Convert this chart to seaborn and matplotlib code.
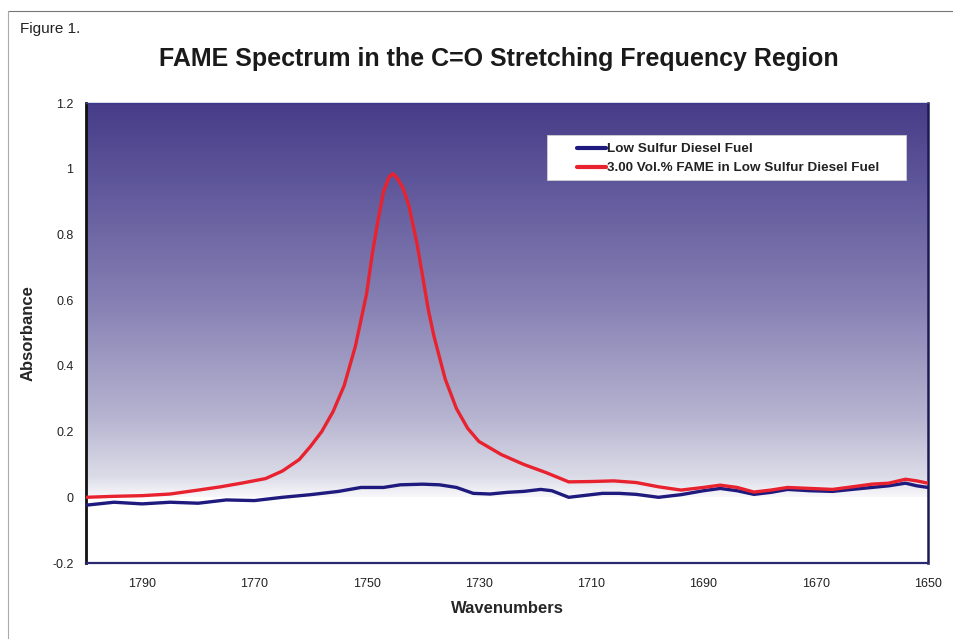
import numpy as np
import pandas as pd
import matplotlib
matplotlib.use("Agg")
import matplotlib.pyplot as plt
from matplotlib.colors import LinearSegmentedColormap
from matplotlib.patches import Rectangle
import seaborn as sns

# ---- data ----
red_label = "3.00 Vol.% FAME in Low Sulfur Diesel Fuel"
blue_label = "Low Sulfur Diesel Fuel"

red_wn = [1800, 1795, 1790, 1785, 1780, 1776, 1772, 1768, 1765, 1762, 1760, 1758, 1756,
          1754, 1752, 1750, 1749, 1748, 1747, 1746, 1745.3, 1744.5, 1743.5, 1742.5, 1741,
          1739, 1738, 1736, 1734, 1732, 1730, 1728, 1726, 1722, 1718, 1714, 1710, 1706,
          1702, 1698, 1694, 1690, 1687, 1684, 1681, 1678, 1675, 1671, 1667, 1663, 1660,
          1657, 1654, 1652, 1650]
red_abs = [0.0, 0.003, 0.005, 0.01, 0.022, 0.032, 0.044, 0.057, 0.08, 0.115, 0.155, 0.2, 0.26,
           0.34, 0.46, 0.62, 0.74, 0.84, 0.93, 0.975, 0.985, 0.97, 0.94, 0.89, 0.77,
           0.57, 0.49, 0.36, 0.27, 0.21, 0.17, 0.15, 0.13, 0.10, 0.075, 0.047, 0.048, 0.05,
           0.045, 0.032, 0.022, 0.03, 0.037, 0.03, 0.016, 0.022, 0.03, 0.027, 0.024, 0.033, 0.04,
           0.043, 0.055, 0.05, 0.043]

blue_wn = [1800, 1795, 1790, 1785, 1780, 1775, 1770, 1765, 1760, 1755, 1751, 1747, 1744,
           1740, 1737, 1734, 1731, 1728, 1725, 1722, 1719, 1717, 1714, 1711, 1708, 1705,
           1702, 1698, 1694, 1690, 1687, 1684, 1681, 1678, 1675, 1671, 1667, 1663, 1660,
           1657, 1654, 1652, 1650]
blue_abs = [-0.024, -0.015, -0.02, -0.015, -0.018, -0.008, -0.01, 0.0, 0.008, 0.018, 0.03, 0.03, 0.038,
            0.04, 0.038, 0.03, 0.012, 0.01, 0.015, 0.018, 0.024, 0.02, 0.0, 0.006, 0.012, 0.012,
            0.009, 0.0, 0.008, 0.02, 0.027, 0.02, 0.009, 0.015, 0.024, 0.02, 0.018, 0.025, 0.03,
            0.035, 0.043, 0.035, 0.03]

x_ticks = [1790, 1770, 1750, 1730, 1710, 1690, 1670, 1650]
y_ticks = [-0.2, 0, 0.2, 0.4, 0.6, 0.8, 1.0, 1.2]
y_tick_labels = ["-0.2", "0", "0.2", "0.4", "0.6", "0.8", "1", "1.2"]

df = pd.concat([
    pd.DataFrame({"Wavenumbers": blue_wn, "Absorbance": blue_abs, "series": blue_label}),
    pd.DataFrame({"Wavenumbers": red_wn, "Absorbance": red_abs, "series": red_label}),
], ignore_index=True)

sns.set_theme(style="white")
plt.rcParams["font.family"] = ["Liberation Sans", "DejaVu Sans"]

fig = plt.figure(figsize=(9.54, 6.39), dpi=100)
ax = fig.add_axes([0.0901, 0.1189, 0.8826, 0.7199])

# gradient background (navy at top fading to white near zero)
cmap = LinearSegmentedColormap.from_list(
    "bg", [(0.0, "#f7f7fa"), (0.05, "#dcdce8"), (0.2, "#b6b4d0"),
           (0.5, "#857fb3"), (0.8, "#5e569a"), (1.0, "#473c88")])
grad = np.linspace(0, 1, 256).reshape(-1, 1)
ax.imshow(grad, origin="lower", aspect="auto", cmap=cmap,
          extent=[1800, 1650, 0.0, 1.2], zorder=0)

sns.lineplot(data=df, x="Wavenumbers", y="Absorbance", hue="series",
             hue_order=[blue_label, red_label],
             palette={blue_label: "#1f1b7e", red_label: "#e8222e"},
             linewidth=2.4, sort=False, estimator=None, ax=ax, zorder=3)

ax.set_xlim(1800, 1650)
ax.set_ylim(-0.2, 1.2)
ax.set_xticks(x_ticks)
ax.set_xticklabels([str(t) for t in x_ticks])
ax.set_yticks(y_ticks)
ax.set_yticklabels(y_tick_labels)
ax.tick_params(axis="both", labelsize=9, length=2, colors="#222222")
ax.tick_params(axis="y", pad=7)
ax.tick_params(axis="x", pad=9)

ax.set_xlabel("Wavenumbers", fontsize=12, fontweight="bold", labelpad=8)
ax.set_ylabel("Absorbance", fontsize=12, fontweight="bold", labelpad=12)

for side, col, lw in [("left", "#111111", 2.0), ("bottom", "#2a2870", 1.6),
                      ("right", "#1a1a50", 1.8), ("top", "#3a3a8a", 1.0)]:
    ax.spines[side].set_visible(True)
    ax.spines[side].set_color(col)
    ax.spines[side].set_linewidth(lw)

# legend box
ax.add_patch(Rectangle((0.5475, 0.8326), 0.4265, 0.0974, transform=ax.transAxes,
                       facecolor="white", edgecolor="#d0d0d0", lw=0.6, zorder=4))
leg = ax.legend(loc="center left", bbox_to_anchor=(0.583, 0.879), frameon=False,
                handlelength=2.2, handletextpad=0.05, borderpad=0, borderaxespad=0,
                labelspacing=0.5, prop={"weight": "bold", "size": 9.7})
leg.set_zorder(5)
for line in leg.get_lines():
    line.set_linewidth(3.0)
for t in leg.get_texts():
    t.set_color("#222222")
leg.set_title(None)

fig.text(0.523, 0.908, "FAME Spectrum in the C=O Stretching Frequency Region",
         ha="center", va="center", fontsize=18, fontweight="bold", color="#1a1a1a")
fig.text(0.021, 0.955, "Figure 1.", ha="left", va="center", fontsize=11,
         color="#222222", family=["Liberation Sans Narrow", "Liberation Sans", "DejaVu Sans"])

# page border lines from the scan
fig.add_artist(plt.Line2D([0.008, 1.0], [0.983, 0.983], color="#777777", lw=0.8))
fig.add_artist(plt.Line2D([0.008, 0.008], [0.0, 0.983], color="#aaaaaa", lw=0.8))

fig.savefig("out.png", dpi=100)
